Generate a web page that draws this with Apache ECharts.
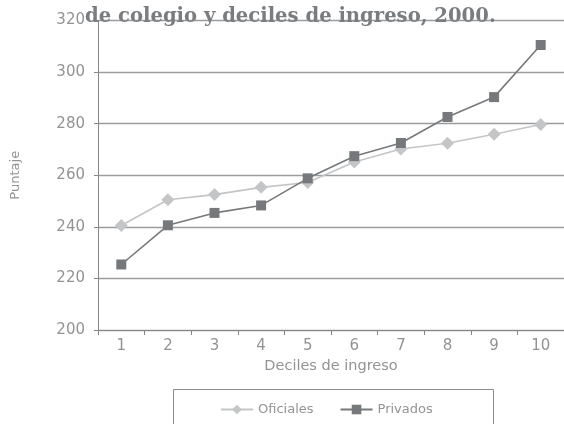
<!DOCTYPE html>
<html>
<head>
<meta charset="utf-8">
<script src="https://cdn.jsdelivr.net/npm/echarts@6/dist/echarts.min.js"></script>
<style>
html,body{margin:0;padding:0;background:#fff;}
#chart{width:564px;height:424px;}
</style>
</head>
<body>
<div id="chart"></div>
<script>
const titleText = 'de colegio y deciles de ingreso, 2000.';
const categories = ['1','2','3','4','5','6','7','8','9','10'];
const oficiales = [240.5, 250.5, 252.5, 255.3, 257.2, 265.1, 270.2, 272.4, 275.9, 279.7];
const privados = [225.4, 240.6, 245.4, 248.3, 258.8, 267.4, 272.5, 282.6, 290.3, 310.5];
const yTicks = [200, 220, 240, 260, 280, 300, 320];

const chart = echarts.init(document.getElementById('chart'), null, {renderer: 'canvas'});
const axisGray = '#85888b';
const labelGray = '#939393';
const sans = 'DejaVu Sans';
chart.setOption({
  animation: false,
  backgroundColor: '#fff',
  title: {
    text: titleText,
    left: 85,
    top: 7,
    padding: 0,
    textStyle: {
      fontFamily: 'DejaVu Serif',
      fontWeight: 'bold',
      fontSize: 19.6,
      color: '#7a7d80'
    }
  },
  grid: {left: 98, right: 0, top: 20.5, bottom: 94, containLabel: false},
  xAxis: {
    type: 'category',
    data: categories,
    boundaryGap: true,
    name: 'Deciles de ingreso',
    nameLocation: 'middle',
    nameGap: 29,
    nameTextStyle: {fontFamily: sans, fontSize: 14.5, color: labelGray},
    axisLine: {lineStyle: {color: axisGray, width: 1}},
    axisTick: {show: true, length: 5, lineStyle: {color: axisGray}},
    axisLabel: {fontFamily: sans, fontSize: 15, color: labelGray, margin: 9},
    splitLine: {show: false}
  },
  yAxis: {
    type: 'value',
    min: yTicks[0],
    max: yTicks[yTicks.length - 1],
    interval: 20,
    name: 'Puntaje',
    nameLocation: 'middle',
    nameGap: 76,
    nameRotate: 90,
    nameTextStyle: {fontFamily: sans, fontSize: 13, color: labelGray},
    axisLine: {show: true, lineStyle: {color: axisGray, width: 1}},
    axisTick: {show: true, length: 4, lineStyle: {color: axisGray}},
    axisLabel: {fontFamily: sans, fontSize: 15, color: labelGray, margin: 13},
    splitLine: {show: true, lineStyle: {color: '#9a9c9e', width: 1.3}}
  },
  legend: {
    show: true,
    left: 220,
    top: 403,
    padding: 0,
    itemWidth: 32,
    itemHeight: 12,
    itemGap: 26,
    textStyle: {fontFamily: sans, fontSize: 13, color: labelGray},
    data: ['Oficiales', 'Privados']
  },
  graphic: [{
    type: 'rect',
    shape: {x: 173.5, y: 389.5, width: 320, height: 60},
    style: {fill: 'none', stroke: '#8a8c8e', lineWidth: 1},
    silent: true
  }],
  series: [
    {
      name: 'Oficiales',
      type: 'line',
      data: oficiales,
      symbol: 'diamond',
      symbolSize: 13,
      lineStyle: {color: '#c3c5c7', width: 1.6},
      itemStyle: {color: '#c3c5c7'},
      z: 2
    },
    {
      name: 'Privados',
      type: 'line',
      data: privados,
      symbol: 'rect',
      symbolSize: 10,
      lineStyle: {color: '#76797c', width: 1.6},
      itemStyle: {color: '#76797c'},
      z: 3
    }
  ]
});
</script>
</body>
</html>
